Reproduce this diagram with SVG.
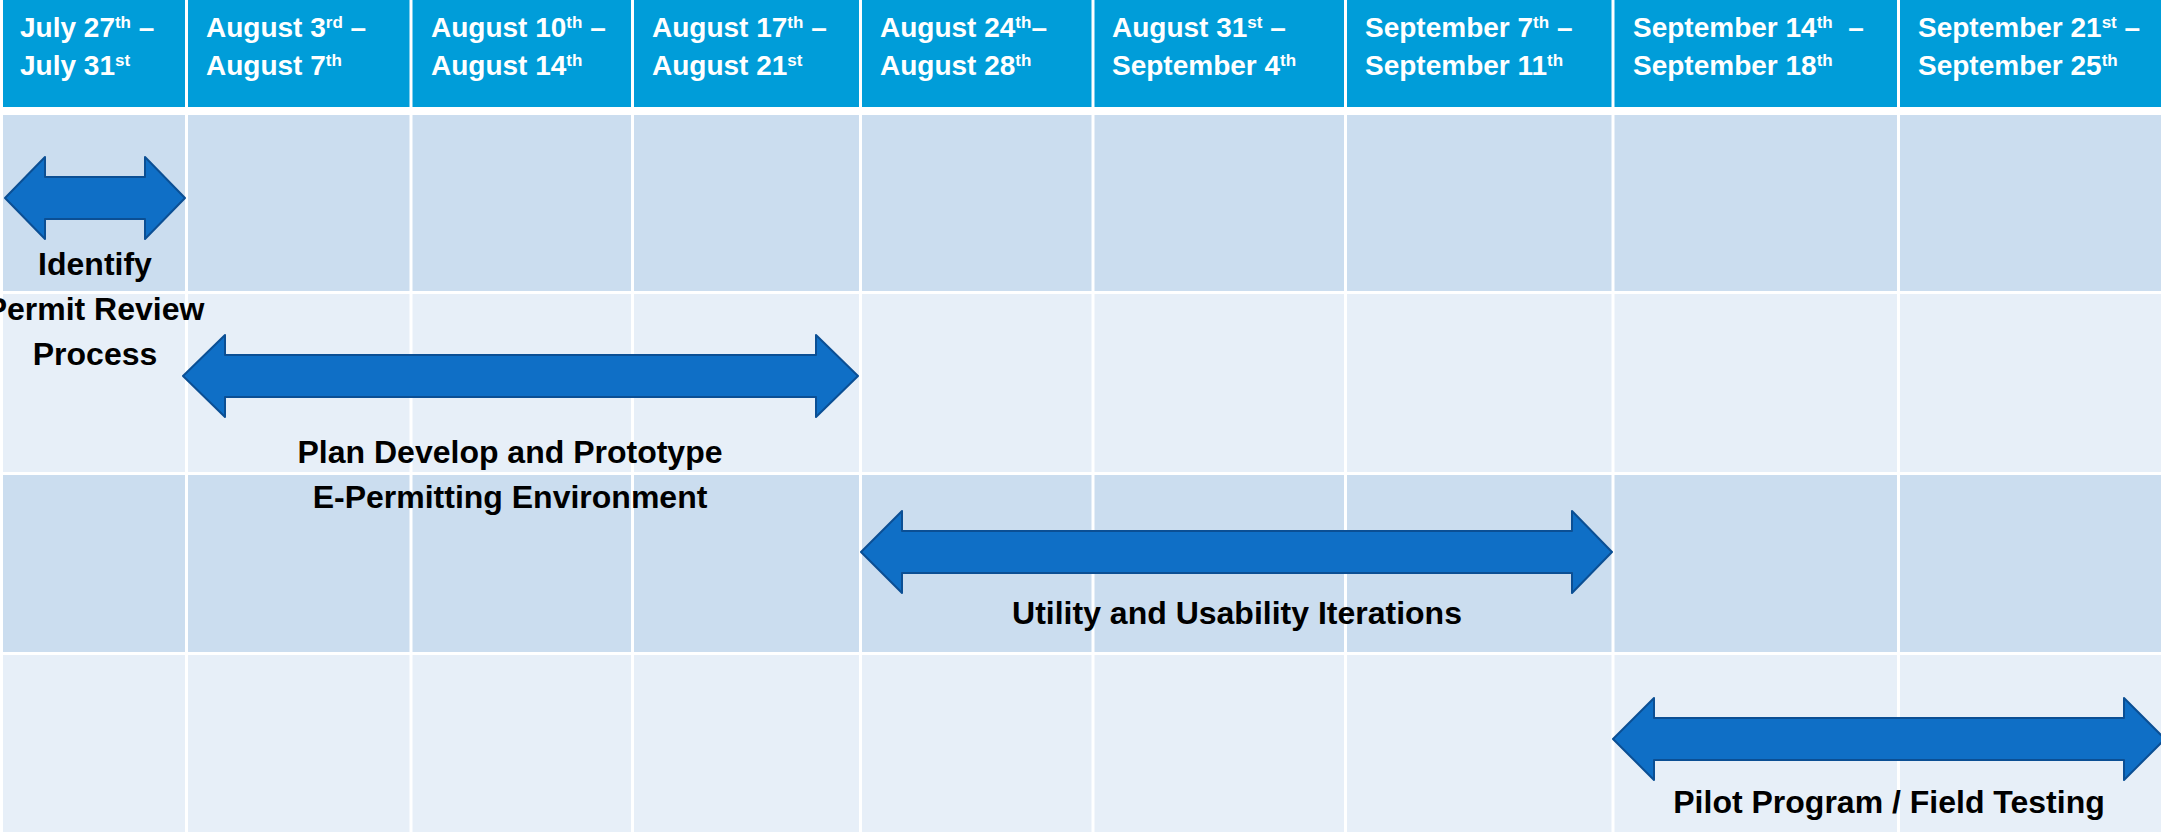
<svg xmlns="http://www.w3.org/2000/svg" width="2161" height="832" viewBox="0 0 2161 832">
<style>
.hdr{fill:#009DD9}
.odd{fill:#CBDDEF}
.even{fill:#E7EFF8}
.div{stroke:#FFFFFF;stroke-width:3}
.ht{font-family:"Liberation Sans",Arial,sans-serif;font-weight:bold;font-size:28px;fill:#FFFFFF;white-space:pre}
.sup{font-size:17px}
.arrow{fill:#0F6FC6;stroke:#0B4F94;stroke-width:2;stroke-linejoin:round}
.lbl{font-family:"Liberation Sans",Arial,sans-serif;font-weight:bold;font-size:32px;fill:#000000;text-anchor:middle}
</style>
<rect x="0" y="0" width="2161" height="832" fill="#FFFFFF"/>
<g id="grid">
<rect class="hdr" x="3" y="0" width="2158" height="107"/>
<rect class="odd" x="3" y="115" width="2158" height="176"/>
<rect class="even" x="3" y="294" width="2158" height="178"/>
<rect class="odd" x="3" y="475" width="2158" height="177"/>
<rect class="even" x="3" y="655" width="2158" height="177"/>
<g class="div">
<line x1="186.5" y1="0" x2="186.5" y2="832"/>
<line x1="411" y1="0" x2="411" y2="832"/>
<line x1="632.5" y1="0" x2="632.5" y2="832"/>
<line x1="860.5" y1="0" x2="860.5" y2="832"/>
<line x1="1093" y1="0" x2="1093" y2="832"/>
<line x1="1345.5" y1="0" x2="1345.5" y2="832"/>
<line x1="1613" y1="0" x2="1613" y2="832"/>
<line x1="1898.5" y1="0" x2="1898.5" y2="832"/>
</g>
</g>
<g id="header">
<text class="ht" x="20" y="37">July 27<tspan class="sup" dy="-9">th</tspan><tspan dy="9"> –</tspan></text>
<text class="ht" x="20" y="75">July 31<tspan class="sup" dy="-9">st</tspan></text>
<text class="ht" x="206" y="37">August 3<tspan class="sup" dy="-9">rd</tspan><tspan dy="9"> –</tspan></text>
<text class="ht" x="206" y="75">August 7<tspan class="sup" dy="-9">th</tspan></text>
<text class="ht" x="431" y="37">August 10<tspan class="sup" dy="-9">th</tspan><tspan dy="9"> –</tspan></text>
<text class="ht" x="431" y="75">August 14<tspan class="sup" dy="-9">th</tspan></text>
<text class="ht" x="652" y="37">August 17<tspan class="sup" dy="-9">th</tspan><tspan dy="9"> –</tspan></text>
<text class="ht" x="652" y="75">August 21<tspan class="sup" dy="-9">st</tspan></text>
<text class="ht" x="880" y="37">August 24<tspan class="sup" dy="-9">th</tspan><tspan dy="9">–</tspan></text>
<text class="ht" x="880" y="75">August 28<tspan class="sup" dy="-9">th</tspan></text>
<text class="ht" x="1112" y="37">August 31<tspan class="sup" dy="-9">st</tspan><tspan dy="9"> –</tspan></text>
<text class="ht" x="1112" y="75">September 4<tspan class="sup" dy="-9">th</tspan></text>
<text class="ht" x="1365" y="37">September 7<tspan class="sup" dy="-9">th</tspan><tspan dy="9"> –</tspan></text>
<text class="ht" x="1365" y="75">September 11<tspan class="sup" dy="-9">th</tspan></text>
<text class="ht" x="1633" y="37">September 14<tspan class="sup" dy="-9">th</tspan><tspan dy="9">  –</tspan></text>
<text class="ht" x="1633" y="75">September 18<tspan class="sup" dy="-9">th</tspan></text>
<text class="ht" x="1918" y="37">September 21<tspan class="sup" dy="-9">st</tspan><tspan dy="9"> –</tspan></text>
<text class="ht" x="1918" y="75">September 25<tspan class="sup" dy="-9">th</tspan></text>
</g>
<g id="task-identify">
<path class="arrow" d="M5,198 L45,157 L45,177 L145,177 L145,157 L185,198 L145,239 L145,219 L45,219 L45,239 Z"/>
<text class="lbl" x="95" y="275">Identify</text>
<text class="lbl" x="95" y="320">Permit Review</text>
<text class="lbl" x="95" y="365">Process</text>
</g>
<g id="task-plan">
<path class="arrow" d="M183,376 L225,335 L225,355 L816,355 L816,335 L858,376 L816,417 L816,397 L225,397 L225,417 Z"/>
<text class="lbl" x="510" y="463">Plan Develop and Prototype</text>
<text class="lbl" x="510" y="508">E-Permitting Environment</text>
</g>
<g id="task-utility">
<path class="arrow" d="M861,552 L902,511 L902,531 L1572,531 L1572,511 L1612,552 L1572,593 L1572,573 L902,573 L902,593 Z"/>
<text class="lbl" x="1237" y="624">Utility and Usability Iterations</text>
</g>
<g id="task-pilot">
<path class="arrow" d="M1613,739 L1654,698 L1654,718 L2124,718 L2124,698 L2165,739 L2124,780 L2124,760 L1654,760 L1654,780 Z"/>
<text class="lbl" x="1889" y="813">Pilot Program / Field Testing</text>
</g>
<g id="connectors"/>
</svg>
